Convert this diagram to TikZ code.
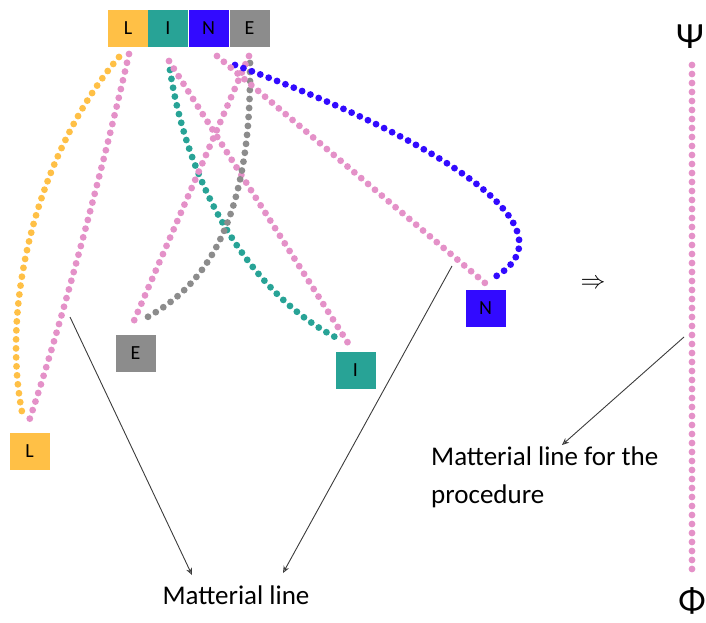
\documentclass[tikz,border=0pt]{standalone}
\usepackage{fontspec}
\setmainfont{Carlito}
\usetikzlibrary{arrows.meta}
\definecolor{cyel}{RGB}{255,192,70}
\definecolor{cteal}{RGB}{40,163,150}
\definecolor{cblue}{RGB}{50,10,255}
\definecolor{cgray}{RGB}{140,140,140}
\definecolor{cpink}{RGB}{228,145,200}
\definecolor{carrow}{RGB}{60,60,60}
\begin{document}
\begin{tikzpicture}[x=1pt,y=-1pt,
  letterbox/.style={minimum width=40pt,minimum height=37pt,inner sep=0pt,font=\fontsize{20}{20}\selectfont},
  dots/.style={line width=6.8pt,line cap=round,dash pattern=on 0pt off 9pt},
  pointer/.style={carrow,line width=0.9pt,-{Stealth[length=7pt,width=6pt,open]}},
  label/.style={font=\fontsize{27}{38}\selectfont,inner sep=0pt}]
\useasboundingbox (0,0) rectangle (706,623);
% top word
\node[letterbox,fill=cyel]  (tL) at (128,28.5) {L};
\node[letterbox,fill=cteal] (tI) at (168,28.5) {I};
\node[letterbox,fill=cblue] (tN) at (208.5,28.5) {N};
\node[letterbox,fill=cgray] (tE) at (249.5,28.5) {E};
% scattered letters
\node[letterbox,fill=cyel]  (bL) at (29.5,451.5) {L};
\node[letterbox,fill=cgray] (bE) at (135.5,353.5) {E};
\node[letterbox,fill=cteal] (bI) at (355.5,370) {I};
\node[letterbox,fill=cblue] (bN) at (485.5,308) {N};
% path end points
\coordinate (yL1) at (119,57);  \coordinate (yL2) at (22,412);
\coordinate (pL1) at (129,54);  \coordinate (pL2) at (29,421);
\coordinate (tI1) at (170,70);  \coordinate (tI2) at (339,339);
\coordinate (pI1) at (169,61);  \coordinate (pI2) at (348,343);
\coordinate (pN1) at (217,56);  \coordinate (pN2) at (485,283);
\coordinate (bN1) at (235,65);  \coordinate (bN2) at (493,278);
\coordinate (pE1) at (249,56);  \coordinate (pE2) at (133,323);
\coordinate (gE1) at (250,63);  \coordinate (gE2) at (142,320);
% dotted lines
\draw[dots,cyel] (yL1) .. controls (40,150) and (0,300) .. (yL2);
\draw[dots,cpink] (pL1) .. controls (105,160) and (60,330) .. (pL2);
\draw[dots,cteal] (tI1) .. controls (190,200) and (260,300) .. (tI2);
\draw[dots,cpink] (pI1) -- (pI2);
\draw[dots,cgray] (gE1) .. controls (252,230) and (200,290) .. (gE2);
\draw[dots,cpink] (pE1) -- (pE2);
\draw[dots,cblue] (bN1) .. controls (440,140) and (580,230) .. (bN2);
\draw[dots,cpink] (pN1) -- (pN2);
% right side
\node[font=\fontsize{37}{37}\selectfont,inner sep=0pt] (psi) at (690,37) {Ψ};
\node[font=\fontsize{36}{36}\selectfont,inner sep=0pt] (phi) at (692,601) {Φ};
\coordinate (v1) at (692,65); \coordinate (v2) at (692,577);
\draw[dots,cpink] (v1) -- (v2);
\node[font=\fontsize{30}{30}\selectfont,inner sep=0pt] (impl) at (593,284) {$\Rightarrow$};
% labels
\node[label] (ml) at (236,595) {Matterial line};
\node[label,align=left,anchor=north west] (mlp) at (431,447) {Matterial line for the\\procedure};
% pointers
\coordinate (a1s) at (70,317);  \coordinate (a1e) at (192,575);
\coordinate (a2s) at (452,266); \coordinate (a2e) at (283,573);
\coordinate (a3s) at (684,337); \coordinate (a3e) at (562,445);
\draw[pointer] (a1s) -- (a1e);
\draw[pointer] (a2s) -- (a2e);
\draw[pointer] (a3s) -- (a3e);
\end{tikzpicture}
\end{document}
